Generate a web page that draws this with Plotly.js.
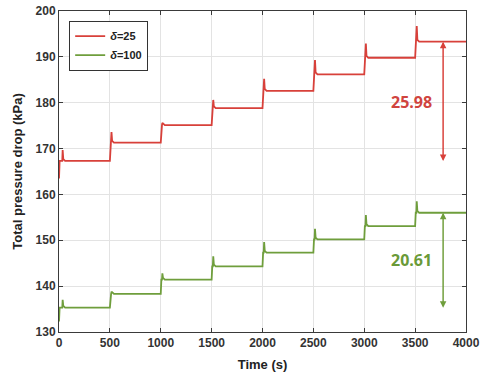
<!DOCTYPE html>
<html><head><meta charset="utf-8">
<script src="https://cdn.plot.ly/plotly-3.0.1.min.js"></script>
<style>html,body{margin:0;padding:0;background:#fff}#chart{width:484px;height:376px}</style>
</head><body><div id="chart"></div>
<script>
// Step change times (s)
const stepTimes = [0, 500, 1000, 1500, 2000, 2500, 3000, 3500];
const endTime = 4000;
// delta = 25 series (kPa)
const redStart = 163.5;
const redLevels = [167.3, 171.3, 175.1, 178.8, 182.6, 186.2, 189.8, 193.3];
const redPeaks  = [169.7, 173.6, 175.6, 180.6, 185.2, 189.3, 192.9, 196.7];
// delta = 100 series (kPa)
const greenStart = 132.3;
const greenLevels = [135.3, 138.3, 141.4, 144.3, 147.3, 150.2, 153.1, 156.0];
const greenPeaks  = [137.0, 138.7, 142.8, 146.5, 149.6, 152.5, 155.5, 158.5];
// Annotations
const redDiffLabel = "25.98";
const greenDiffLabel = "20.61";
const arrowTime = 3775;
const labelTime = 3460;

function buildSeries(start, levels, peaks) {
  const x = [], y = [];
  let prev = start;
  for (let k = 0; k < stepTimes.length; k++) {
    const t0 = stepTimes[k], L = levels[k], P = peaks[k];
    const off = k === 0 ? 20 : 0;
    x.push(t0, t0 + 6, t0 + off + 12, t0 + off + 16, t0 + off + 22, t0 + off + 40);
    y.push(prev, L, L, P, L + 0.4, L);
    prev = L;
  }
  x.push(endTime); y.push(prev);
  return {x, y};
}

const red = buildSeries(redStart, redLevels, redPeaks);
const green = buildSeries(greenStart, greenLevels, greenPeaks);
const redC = '#d8403a', greenC = '#6f9e3c';

const traces = [
  {x: red.x, y: red.y, mode: 'lines', name: '<i>δ</i>=25', line: {color: redC, width: 1.8}},
  {x: green.x, y: green.y, mode: 'lines', name: '<i>δ</i>=100', line: {color: greenC, width: 1.8}}
];

const rTop = redLevels[redLevels.length - 1], rBot = redLevels[0];
const gTop = greenLevels[greenLevels.length - 1], gBot = greenLevels[0];

function dblArrow(x, y0, y1, c) {
  return [
    {x: x, y: y0, ax: x, ay: y1, xref: 'x', yref: 'y', axref: 'x', ayref: 'y', text: '', showarrow: true, arrowhead: 2, arrowsize: 1.3, arrowwidth: 1, arrowcolor: c},
    {x: x, y: y1, ax: x, ay: y0, xref: 'x', yref: 'y', axref: 'x', ayref: 'y', text: '', showarrow: true, arrowhead: 2, arrowsize: 1.3, arrowwidth: 1, arrowcolor: c}
  ];
}

const annotations = [
  ...dblArrow(arrowTime, rTop, rBot, redC),
  ...dblArrow(arrowTime, gTop, gBot, greenC),
  {x: labelTime, y: 180.2, xref: 'x', yref: 'y', text: '<b>' + redDiffLabel + '</b>', showarrow: false, font: {family: 'Open Sans, Liberation Sans, sans-serif', size: 16, color: '#d0443e'}},
  {x: labelTime, y: 145.7, xref: 'x', yref: 'y', text: '<b>' + greenDiffLabel + '</b>', showarrow: false, font: {family: 'Open Sans, Liberation Sans, sans-serif', size: 16, color: '#6a9a38'}}
];

const axisCommon = {
  showgrid: true, gridcolor: '#e3e3e3', gridwidth: 1,
  showline: true, linecolor: '#3a3a3a', linewidth: 1, mirror: 'ticks',
  ticks: 'inside', ticklen: 4, tickcolor: '#3a3a3a',
  zeroline: false,
  tickfont: {family: 'Liberation Sans, Arial, sans-serif', size: 12, color: '#333', weight: 'bold'}
};

const layout = {
  width: 484, height: 376,
  margin: {l: 59, r: 18, t: 11, b: 44},
  paper_bgcolor: '#fff', plot_bgcolor: '#fff',
  showlegend: true,
  legend: {x: 0.025, y: 0.97, xanchor: 'left', yanchor: 'top', bgcolor: '#fff', bordercolor: '#333', borderwidth: 1,
    font: {family: 'Liberation Sans, Arial, sans-serif', size: 11, color: '#222', weight: 'bold'},
    tracegroupgap: 0, itemwidth: 30},
  xaxis: Object.assign({}, axisCommon, {range: [0, 4000], tickvals: [0,500,1000,1500,2000,2500,3000,3500,4000],
    title: {text: 'Time (s)', standoff: 10, font: {family: 'Liberation Sans, Arial, sans-serif', size: 13, color: '#222', weight: 'bold'}}}),
  yaxis: Object.assign({}, axisCommon, {range: [130, 200], tickvals: [130,140,150,160,170,180,190,200],
    title: {text: 'Total pressure drop (kPa)', standoff: 10, font: {family: 'Liberation Sans, Arial, sans-serif', size: 13, color: '#222', weight: 'bold'}}}),
  annotations: annotations
};

Plotly.newPlot('chart', traces, layout, {displayModeBar: false, staticPlot: true});
</script></body></html>
